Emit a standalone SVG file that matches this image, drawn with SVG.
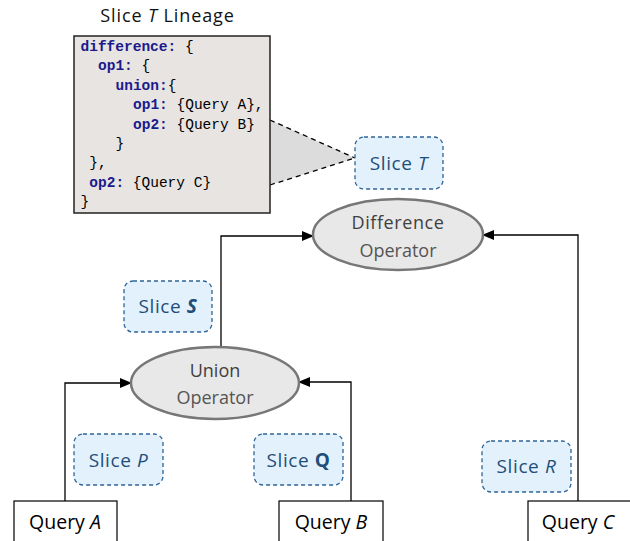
<svg xmlns="http://www.w3.org/2000/svg" width="630" height="541" viewBox="0 0 630 541">
<defs>
<marker id="ah" markerWidth="12" markerHeight="10" refX="11" refY="5" orient="auto" markerUnits="userSpaceOnUse">
<path d="M0,0 L12,5 L0,10 Z" fill="#000"/>
</marker>
<style>
.slice rect{fill:#e3f1fd;stroke:#2e6496;stroke-width:1.3;stroke-dasharray:4,3}
.slice text{font-family:"Open Sans","Noto Sans",sans-serif;font-size:19px;letter-spacing:0.6px;fill:#1f4e79;text-anchor:middle}
.op ellipse{fill:#e8e8e8;stroke:#777;stroke-width:2.5}
.op text{font-family:"Open Sans","Noto Sans",sans-serif;text-anchor:middle;font-size:18px}
.op .t1{fill:#404040}
.op .t2{fill:#555}
.q rect{fill:#fff;stroke:#000;stroke-width:1.2}
.q text{font-family:"Open Sans","Noto Sans",sans-serif;font-size:19.5px;fill:#000;text-anchor:middle}
.edge{fill:none;stroke:#000;stroke-width:1.3}
.code{font-family:"Liberation Mono",monospace;font-size:14.5px;fill:#000;white-space:pre}
.kw{font-weight:bold;fill:#1a1a8c}
</style>
</defs>
<rect width="630" height="541" fill="#fff"/>

<g id="lineage">
<text x="167.5" y="22" font-family="'Open Sans','Noto Sans',sans-serif" font-size="18" letter-spacing="0.9" text-anchor="middle" fill="#111">Slice <tspan font-style="italic">T</tspan> Lineage</text>
<polygon points="270,120 355,158 270,185" fill="#dcdcdc"/>
<line x1="270" y1="120" x2="355" y2="158" stroke="#000" stroke-width="1.3" stroke-dasharray="5,4"/>
<line x1="270" y1="185" x2="355" y2="158" stroke="#000" stroke-width="1.3" stroke-dasharray="5,4"/>
<rect x="74" y="36" width="196" height="177" fill="#e8e4e2" stroke="#222" stroke-width="1.5"/>
<text class="code" x="80.5" y="51"><tspan class="kw">difference:</tspan> {</text>
<text class="code" x="98" y="70.4"><tspan class="kw">op1:</tspan> {</text>
<text class="code" x="115.5" y="89.8"><tspan class="kw">union:</tspan>{</text>
<text class="code" x="133" y="109.2"><tspan class="kw">op1:</tspan> {Query A},</text>
<text class="code" x="133" y="128.6"><tspan class="kw">op2:</tspan> {Query B}</text>
<text class="code" x="115.5" y="148">}</text>
<text class="code" x="89.3" y="167.4">},</text>
<text class="code" x="89.3" y="186.8"><tspan class="kw">op2:</tspan> {Query C}</text>
<text class="code" x="80.5" y="206.2">}</text>
</g>

<g id="connectors">
<polyline class="edge" points="65,501 65,383 131,383" marker-end="url(#ah)"/>
<polyline class="edge" points="351,501 351,382 299,382" marker-end="url(#ah)"/>
<polyline class="edge" points="221,347 221,236 313,236" marker-end="url(#ah)"/>
<polyline class="edge" points="578,501 578,235 483,235" marker-end="url(#ah)"/>
</g>

<g id="difference" class="op">
<ellipse cx="398" cy="234.5" rx="85" ry="35.5"/>
<text class="t1" x="398" y="229" letter-spacing="0.6">Difference</text>
<text class="t2" x="398" y="256.5">Operator</text>
</g>

<g id="union" class="op">
<ellipse cx="215" cy="383" rx="84" ry="36"/>
<text class="t1" x="215" y="377">Union</text>
<text class="t2" x="215" y="403.5">Operator</text>
</g>

<g id="sliceT" class="slice">
<rect x="355" y="137" width="88" height="52" rx="9"/>
<text x="399" y="170">Slice <tspan font-style="italic">T</tspan></text>
</g>
<g id="sliceS" class="slice">
<rect x="124" y="281" width="88" height="51" rx="9"/>
<text x="168" y="313">Slice <tspan font-style="italic" font-weight="bold">S</tspan></text>
</g>
<g id="sliceP" class="slice">
<rect x="74" y="434" width="89" height="51" rx="9"/>
<text x="118.5" y="467">Slice <tspan font-style="italic">P</tspan></text>
</g>
<g id="sliceQ" class="slice">
<rect x="254" y="434" width="89" height="51" rx="9"/>
<text x="298.5" y="467">Slice <tspan font-weight="bold">Q</tspan></text>
</g>
<g id="sliceR" class="slice">
<rect x="482" y="441" width="89" height="51" rx="9"/>
<text x="526.5" y="473">Slice <tspan font-style="italic">R</tspan></text>
</g>

<g id="queryA" class="q">
<rect x="14" y="501" width="103" height="50"/>
<text x="65" y="529">Query <tspan font-style="italic">A</tspan></text>
</g>
<g id="queryB" class="q">
<rect x="279" y="501" width="104" height="50"/>
<text x="331" y="529">Query <tspan font-style="italic">B</tspan></text>
</g>
<g id="queryC" class="q">
<rect x="528" y="501" width="110" height="50"/>
<text x="578" y="529">Query <tspan font-style="italic">C</tspan></text>
</g>
</svg>
